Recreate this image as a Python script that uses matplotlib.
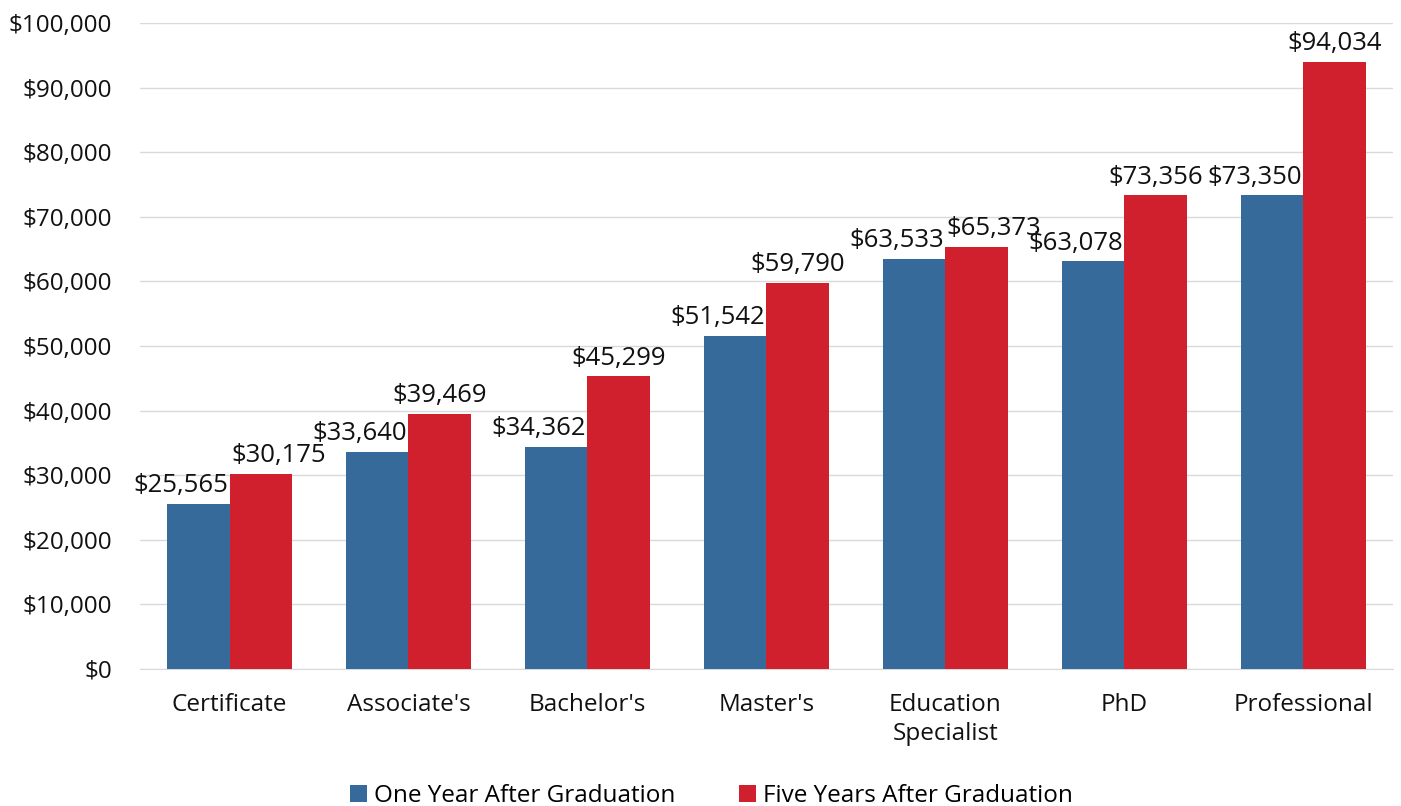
import numpy as np
import matplotlib.pyplot as plt
from matplotlib.ticker import FuncFormatter

plt.rcParams['font.family'] = ['Open Sans', 'DejaVu Sans']

categories = ['Certificate', "Associate's", "Bachelor's", "Master's",
              'Education\nSpecialist', 'PhD', 'Professional']
one_year = [25565, 33640, 34362, 51542, 63533, 63078, 73350]
five_year = [30175, 39469, 45299, 59790, 65373, 73356, 94034]
series_names = ['One Year After Graduation', 'Five Years After Graduation']
colors = ['#356A9A', '#D0202E']

fig = plt.figure(figsize=(14.01, 8.06), dpi=100)
ax = fig.add_axes([0.1, 0.170, 0.894, 0.8015])

x = np.arange(len(categories))
w = 0.35
ax.bar(x - w / 2, one_year, w, color=colors[0], label=series_names[0], zorder=3)
ax.bar(x + w / 2, five_year, w, color=colors[1], label=series_names[1], zorder=3)

# data labels: blue ones end at group centre, red ones centred over bar
# (or shifted right when they'd collide with the blue label)
for i in range(len(categories)):
    ax.annotate(f'${one_year[i]:,.0f}', (x[i], one_year[i]), xytext=(-1, 4),
                textcoords='offset points', ha='right', va='bottom',
                fontsize=18.5, color='#111111', zorder=4)
    if five_year[i] - one_year[i] < 5000:
        xy, ha = (x[i], five_year[i]), 'left'
    else:
        xy, ha = (x[i] + w / 2, five_year[i]), 'center'
    ax.annotate(f'${five_year[i]:,.0f}', xy, xytext=(1 if ha == 'left' else 0, 4),
                textcoords='offset points', ha=ha, va='bottom',
                fontsize=18.5, color='#111111', zorder=4)

ax.set_xlim(-0.5, len(categories) - 0.5)
ax.set_ylim(0, 100000)
ax.set_yticks(np.arange(0, 100001, 10000))
ax.yaxis.set_major_formatter(FuncFormatter(lambda v, p: f'${v:,.0f}'))
ax.set_xticks(x)
ax.set_xticklabels(categories, linespacing=1.3)
ax.tick_params(axis='both', length=0, labelsize=17.5, colors='#111111')
ax.tick_params(axis='x', pad=17)
ax.tick_params(axis='y', pad=20)
ax.grid(axis='y', color='#d9d9d9', linewidth=1, zorder=0)
for s in ['top', 'right', 'left']:
    ax.spines[s].set_visible(False)
ax.spines['bottom'].set_color('#d9d9d9')

fig.legend(loc='lower center', bbox_to_anchor=(0.508, -0.03), ncol=2, frameon=False,
           fontsize=17.5, handlelength=0.7, handleheight=0.7, handletextpad=0.3,
           columnspacing=2.6)

fig.savefig('out.png', dpi=100)
